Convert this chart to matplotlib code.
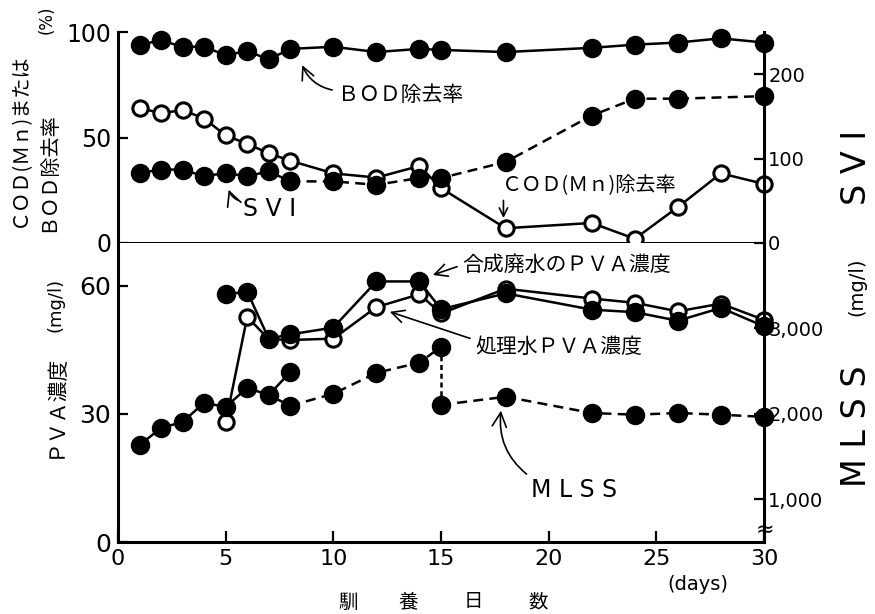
import matplotlib
matplotlib.use("Agg")
import matplotlib.pyplot as plt

plt.rcParams["font.family"] = ["DejaVu Sans"]
JP = ["Noto Sans CJK JP", "DejaVu Sans"]

# --- top panel: removal (%) and SVI ---
days_top = [1, 2, 3, 4, 5, 6, 7, 8, 10, 12, 14, 15, 18, 22, 24, 26, 28, 30]
bod_removal = [94, 96, 93, 93, 89, 91, 87, 92, 93, 90.5, 92, 91.5, 90.5, 92.5, 94, 95, 97, 95]
cod_removal = [64, 61.5, 63, 59, 51, 47, 42.5, 39, 33, 31, 36.5, 26, 7, 9.5, 2, 17, 33, 28]
svi_days = [1, 2, 3, 4, 5, 6, 7, 8, 10, 12, 14, 15, 18, 22, 24, 26, 30]
svi = [83, 87, 87, 79, 83, 79, 85, 73, 73, 69, 77, 77, 96, 151, 171, 171, 174]

# --- bottom panel: PVA (mg/l) and MLSS (mg/l) ---
pva_days = [5, 6, 7, 8, 10, 12, 14, 15, 18, 22, 24, 26, 28, 30]
pva_feed = [58, 58.6, 47.6, 48.6, 50.2, 61, 61, 54.5, 58.2, 54.4, 53.8, 51.8, 54.8, 50.5]
pva_treated = [28, 52.7, 47.5, 47.3, 47.6, 55, 58, 53.5, 59.3, 57, 56, 54, 55.8, 52]
mlss_days = [1, 2, 3, 4, 5, 6, 7, 8, 8, 10, 12, 14, 15, 15, 18, 22, 24, 26, 28, 30]
mlss = [1635, 1835, 1905, 2130, 2080, 2305, 2220, 2490, 2095, 2235, 2480, 2600,
        2785, 2105, 2200, 2010, 1990, 2010, 1990, 1965]

x_ticks = [0, 5, 10, 15, 20, 25, 30]
mlss_ticks = [1000, 2000, 3000]
mlss_labels = ["1,000", "2,000", "3,000"]

W, H = 875, 614
fig = plt.figure(figsize=(W / 100, H / 100), dpi=100)


def fx(x, y):
    return x / W, 1 - y / H


X0, X1 = 118, 764
ax1 = fig.add_axes([X0 / W, 1 - 243 / H, (X1 - X0) / W, (243 - 32) / H])
ax2 = fig.add_axes([X0 / W, 1 - 542 / H, (X1 - X0) / W, (542 - 243) / H])
ax1r = ax1.twinx()
ax2r = ax2.twinx()

ax1.set_xlim(0, 30)
ax1.set_ylim(0, 100)
ax1r.set_ylim(0, 250)
ax2.set_xlim(0, 30)
ax2.set_ylim(0, 70)
ax2r.set_ylim(500, 4000)

SW = 2.2
for a in (ax1, ax2):
    a.spines["top"].set_visible(False)
    a.spines["right"].set_visible(False)
    a.spines["left"].set_linewidth(SW)
    a.spines["bottom"].set_linewidth(SW)
for a in (ax1r, ax2r):
    for s in ("top", "left", "bottom"):
        a.spines[s].set_visible(False)
    a.spines["right"].set_linewidth(SW)

filled = dict(color="k", lw=1.8, marker="o", ms=13, mfc="k", mec="k", clip_on=False)
hollow = dict(color="k", lw=1.8, marker="o", ms=11, mfc="white", mec="k", mew=2.2,
              clip_on=False)
dash = (0, (4, 2.5))

# top panel
ax1.plot(days_top, cod_removal, **hollow, zorder=3)
ax1.plot(days_top, bod_removal, **filled, zorder=4)
ax1r.plot(svi_days[:8], svi[:8], **filled, zorder=4)
ax1r.plot(svi_days[7:], svi[7:], ls=dash, **filled, zorder=4)

# bottom panel
ax2.plot(pva_days, pva_treated, **hollow, zorder=3)
ax2.plot(pva_days, pva_feed, **filled, zorder=4)
ax2r.plot(mlss_days[:8], mlss[:8], **filled)
ax2r.plot([mlss_days[6], mlss_days[8]], [mlss[6], mlss[8]], color="k", lw=1.8)
ax2r.plot(mlss_days[8:13], mlss[8:13], ls=dash, **filled)
ax2r.plot(mlss_days[12:14], mlss[12:14], color="k", lw=1.8, ls=(0, (2, 1.5)))
ax2r.plot(mlss_days[13:], mlss[13:], ls=dash, **filled)

# ticks
ax1.set_xticks([])
ax1.set_yticks([0, 50, 100])
ax1.tick_params(axis="y", direction="in", length=7, width=1.6, labelsize=17, pad=5)
ax1r.set_yticks([0, 100, 200])
ax1r.tick_params(axis="y", direction="in", length=7, width=1.6, labelsize=14, pad=3)
ax2.set_xticks(x_ticks)
ax2.tick_params(axis="x", direction="in", length=8, width=1.6, labelsize=16, pad=5)
ax2.set_yticks([0, 30, 60])
ax2.tick_params(axis="y", direction="in", length=7, width=1.6, labelsize=18, pad=5)
ax2r.set_yticks(mlss_ticks)
ax2r.set_yticklabels(mlss_labels)
ax2r.tick_params(axis="y", direction="in", length=7, width=1.6, labelsize=14, pad=3)

arr = dict(arrowstyle="->,head_length=0.6,head_width=0.3", color="k", lw=1.2,
           shrinkA=2, shrinkB=2)

# annotations, top
ax1.annotate("ＢＯＤ除去率", xy=(8.5, 85.5), xytext=(10.2, 70), family=JP, fontsize=15,
             ha="left", va="center",
             arrowprops=dict(arr, relpos=(0, 0.7), connectionstyle="arc3,rad=-0.3"))
ax1.annotate("S V I", xy=(5.1, 26.5), xytext=(5.8, 16), fontsize=17,
             ha="left", va="center",
             arrowprops=dict(arr, relpos=(0, 0.8), connectionstyle="arc3,rad=-0.3"))
ax1.text(21.9, 27, "ＣＯＤ(Ｍｎ)除去率", family=JP, fontsize=14.5, ha="center", va="center")
ax1.annotate("", xy=(17.9, 10.5), xytext=(17.9, 21.5), arrowprops=arr)

# annotations, bottom
ax2.annotate("合成廃水のＰＶＡ濃度", xy=(14.5, 62.3), xytext=(16.0, 64.9), family=JP,
             fontsize=15, ha="left", va="center", arrowprops=dict(arr, relpos=(0, 0.5)))
ax2.annotate("処理水ＰＶＡ濃度", xy=(12.5, 54.1), xytext=(16.6, 45.7), family=JP,
             fontsize=15, ha="left", va="center", arrowprops=dict(arr, relpos=(0, 0.8)))
ax2.annotate("M L S S", xy=(17.8, 31.4), xytext=(19.2, 12.2), fontsize=17,
             ha="left", va="center",
             arrowprops=dict(arr, relpos=(0, 1), connectionstyle="arc3,rad=-0.3"))

# axis labels
fig.text(*fx(20, 140), "ＣＯＤ(Ｍｎ)または", family=JP, fontsize=14.5, rotation=90,
         ha="center", va="center")
fig.text(*fx(48, 172), "ＢＯＤ除去率", family=JP, fontsize=14.5, rotation=90,
         ha="center", va="center")
fig.text(*fx(47, 20), "(%)", fontsize=12, rotation=90, ha="center", va="center")
fig.text(*fx(55, 406), "ＰＶＡ濃度", family=JP, fontsize=15, rotation=90,
         ha="center", va="center")
fig.text(*fx(55, 305), "(mg/l)", fontsize=13, rotation=90, ha="center", va="center")
fig.text(*fx(857, 167), "S V I", fontsize=24, rotation=90, ha="center", va="center")
fig.text(*fx(857, 426), "M L S S", fontsize=24, rotation=90, ha="center", va="center")
fig.text(*fx(857, 287), "(mg/l)", fontsize=14, rotation=90, ha="center", va="center")
for ch, x in zip("馴養日数", [348, 408, 473, 538]):
    fig.text(*fx(x, 602), ch, family=JP, fontsize=14, ha="center", va="center")
fig.text(*fx(698, 585), "(days)", fontsize=14, ha="center", va="center")
fig.text(*fx(765, 530), "≈", fontsize=16, ha="center", va="center")

fig.savefig("out.png", dpi=100, facecolor="white")
